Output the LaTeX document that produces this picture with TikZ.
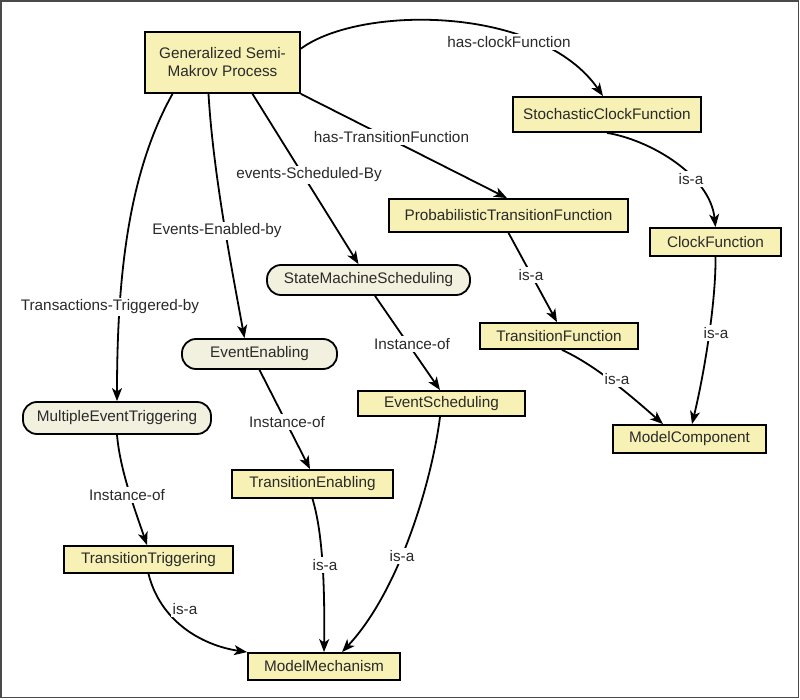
\documentclass[tikz,border=0pt]{standalone}
\usepackage{fontspec}
\setmainfont{Liberation Sans}
\usetikzlibrary{arrows.meta}
\definecolor{clsfill}{HTML}{F7F1B5}
\definecolor{instfill}{HTML}{F2F0DE}
\definecolor{txt}{HTML}{2A2A2A}
\definecolor{framecol}{HTML}{4A4A4A}
\begin{document}
\begin{tikzpicture}[x=1pt,y=-1pt,
  every node/.style={font=\fontsize{15.3}{18}\selectfont, text=txt},
  cls/.style={draw=black, line width=1.8pt, fill=clsfill, inner sep=0pt, align=center},
  inst/.style={cls, fill=instfill, rounded corners=14pt},
  lbl/.style={fill=white, inner sep=2pt},
  rel/.style={line width=1.8pt, -{Stealth[length=13pt,width=10pt,inset=3.5pt]}},
]
\useasboundingbox (0,0) rectangle (800,700);
\draw[framecol, line width=1.8pt] (1,1) rectangle (798.5,697.5);

% nodes
\node[cls, minimum width=155pt, minimum height=61pt] (gsmp) at (222.5,62.5) {Generalized Semi-\\Makrov Process};
\node[cls, minimum width=188pt, minimum height=35pt] (scf) at (607,114.5) {StochasticClockFunction};
\node[cls, minimum width=239pt, minimum height=33pt] (ptf) at (508.5,215.5) {ProbabilisticTransitionFunction};
\node[cls, minimum width=131pt, minimum height=28pt] (cf) at (715.5,242) {ClockFunction};
\node[inst, minimum width=203pt, minimum height=30pt] (sms) at (368.5,280) {StateMachineScheduling};
\node[inst, minimum width=155pt, minimum height=30pt] (ee) at (259.5,354) {EventEnabling};
\node[inst, minimum width=188pt, minimum height=32pt] (met) at (117,418) {MultipleEventTriggering};
\node[cls, minimum width=158pt, minimum height=26pt] (tf) at (559,336) {TransitionFunction};
\node[cls, minimum width=167pt, minimum height=25pt] (es) at (441.5,403.5) {EventScheduling};
\node[cls, minimum width=153pt, minimum height=28pt] (mc) at (689.5,439) {ModelComponent};
\node[cls, minimum width=161pt, minimum height=28pt] (te) at (312.5,484) {TransitionEnabling};
\node[cls, minimum width=169pt, minimum height=27pt] (tt) at (148.5,559.5) {TransitionTriggering};
\node[cls, minimum width=152pt, minimum height=27pt] (mm) at (324,666.5) {ModelMechanism};

% connectors
\draw[rel] (gsmp.10) .. controls (360,5) and (540,5) .. ([xshift=-4pt]scf.north);
\draw[rel] (gsmp.south east) -- ([xshift=-1.5pt]ptf.north);
\draw[rel] ([xshift=30pt]gsmp.south) -- ([xshift=-10pt]sms.north);
\draw[rel] ([xshift=-14pt]gsmp.south) .. controls (213,170) and (230,260) .. ([xshift=-15pt]ee.north);
\draw[rel] ([xshift=-50pt]gsmp.south) .. controls (130,170) and (117,270) .. (met.north);
\draw[rel] (scf.south) .. controls (650,140) and (710,175) .. (cf.north);
\draw[rel] (ptf.south) -- ([xshift=-2pt]tf.north);
\draw[rel] (cf.south) .. controls (716,300) and (705,370) .. ([xshift=2.5pt]mc.north);
\draw[rel] ([xshift=3pt]tf.south) .. controls (595,365) and (630,395) .. ([xshift=-26.5pt]mc.north);
\draw[rel] ([xshift=6.5pt]sms.south) -- ([xshift=-1.5pt]es.north);
\draw[rel] (ee.south) -- ([xshift=-2.5pt]te.north);
\draw[rel] (met.south) .. controls (120,470) and (135,510) .. ([xshift=-1.5pt]tt.north);
\draw[rel] (tt.south) .. controls (160,620) and (200,645) .. (mm.north west);
\draw[rel] (te.south) .. controls (322,530) and (325,580) .. (mm.north);
\draw[rel] ([xshift=-1.5pt]es.south) .. controls (432,480) and (400,590) .. ([xshift=18pt]mm.north);

% labels
\node[lbl] (l1) at (509,42) {has-clockFunction};
\node[lbl] (l2) at (391.5,137) {has-TransitionFunction};
\node[lbl] (l3) at (309,175) {events-Scheduled-By};
\node[lbl] (l4) at (217,231) {Events-Enabled-by};
\node[lbl] (l5) at (110,307) {Transactions-Triggered-by};
\node[lbl] (l6) at (691,179) {is-a};
\node[lbl] (l7) at (531,275) {is-a};
\node[lbl] (l8) at (716,333) {is-a};
\node[lbl] (l9) at (617,379) {is-a};
\node[lbl] (l10) at (412,344) {Instance-of};
\node[lbl] (l11) at (287,422) {Instance-of};
\node[lbl] (l12) at (127,495) {Instance-of};
\node[lbl] (l13) at (185,609) {is-a};
\node[lbl] (l14) at (325,565) {is-a};
\node[lbl] (l15) at (402,556) {is-a};
\end{tikzpicture}
\end{document}
